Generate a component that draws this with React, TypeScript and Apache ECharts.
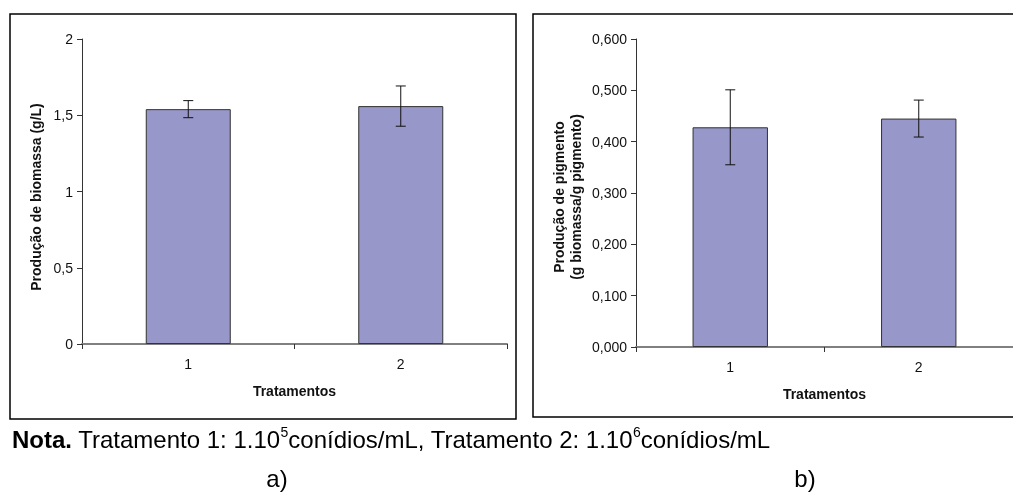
import React, { useEffect, useRef } from "react";
import * as echarts from "echarts";

const FONT = "'Liberation Sans', Arial, sans-serif";

const categories = ["1", "2"];
const biomassa = [1.54, 1.56];
const biomassaErr = [0.056, 0.132];
const pigmento = [0.428, 0.445];
const pigmentoErr = [0.073, 0.036];
const biomassaTicks = { min: 0, max: 2, interval: 0.5 };
const pigmentoTicks = { min: 0, max: 0.6, interval: 0.1 };

const BAR = "#9797c9";

function errorSeries(values: number[], errs: number[], idx: number) {
  return {
    type: "custom",
    xAxisIndex: idx,
    yAxisIndex: idx,
    z: 10,
    encode: { x: 0, y: [1, 2] },
    data: values.map((v, i) => [i, v - errs[i], v + errs[i]]),
    renderItem: (_p: any, api: any) => {
      const x = api.value(0);
      const lo = api.coord([x, api.value(1)]);
      const hi = api.coord([x, api.value(2)]);
      const w = 5;
      const st = { stroke: "#111", lineWidth: 1 };
      return {
        type: "group",
        children: [
          { type: "line", shape: { x1: lo[0], y1: lo[1], x2: hi[0], y2: hi[1] }, style: st },
          { type: "line", shape: { x1: lo[0] - w, y1: lo[1], x2: lo[0] + w, y2: lo[1] }, style: st },
          { type: "line", shape: { x1: hi[0] - w, y1: hi[1], x2: hi[0] + w, y2: hi[1] }, style: st },
        ],
      };
    },
  };
}

function xAxisCfg(idx: number) {
  return {
    type: "category",
    gridIndex: idx,
    data: categories,
    axisLine: { lineStyle: { color: "#808080", width: 2 } },
    axisTick: { show: true, length: 5, lineStyle: { color: "#333", width: 1 } },
    axisLabel: { color: "#111", fontSize: 14, margin: 13, fontFamily: FONT },
    name: "Tratamentos",
    nameLocation: "middle",
    nameGap: 40,
    nameTextStyle: { fontWeight: "bold", fontSize: 14, color: "#111", fontFamily: FONT },
  };
}

function yAxisCfg(idx: number, t: any, fmt: (v: number) => string) {
  return {
    type: "value",
    gridIndex: idx,
    min: t.min,
    max: t.max,
    interval: t.interval,
    axisLine: { show: true, lineStyle: { color: "#333", width: 1 } },
    axisTick: { show: true, length: 5, lineStyle: { color: "#333", width: 1 } },
    splitLine: { show: false },
    axisLabel: { color: "#111", fontSize: 14, margin: 9, fontFamily: FONT, formatter: fmt },
  };
}

export default function App() {
  const ref = useRef<HTMLDivElement>(null);
  useEffect(() => {
    if (!ref.current) return;
    const chart = echarts.init(ref.current, undefined, { renderer: "svg" });
    const titleStyle = { fontFamily: FONT, fontSize: 14, fontWeight: "bold", fill: "#111", align: "center", verticalAlign: "middle", lineHeight: 17 };
    const option: any = {
      animation: false,
      textStyle: { fontFamily: FONT },
      grid: [
        { left: 82, top: 39, width: 425, height: 305 },
        { left: 636, top: 39, width: 380, height: 308 },
      ],
      xAxis: [xAxisCfg(0), xAxisCfg(1)],
      yAxis: [
        yAxisCfg(0, biomassaTicks, (v: number) => String(v).replace(".", ",")),
        yAxisCfg(1, pigmentoTicks, (v: number) => v.toFixed(3).replace(".", ",")),
      ],
      series: [
        {
          type: "bar",
          xAxisIndex: 0,
          yAxisIndex: 0,
          data: biomassa,
          barWidth: "40%",
          itemStyle: { color: BAR, borderColor: "#333", borderWidth: 1 },
        },
        errorSeries(biomassa, biomassaErr, 0),
        {
          type: "bar",
          xAxisIndex: 1,
          yAxisIndex: 1,
          data: pigmento,
          barWidth: "40%",
          itemStyle: { color: BAR, borderColor: "#333", borderWidth: 1 },
        },
        errorSeries(pigmento, pigmentoErr, 1),
      ],
      graphic: [
        { type: "rect", shape: { x: 10, y: 14, width: 506, height: 405 }, style: { fill: "none", stroke: "#000", lineWidth: 1.5 }, z: 100 },
        { type: "rect", shape: { x: 533, y: 14, width: 500, height: 403 }, style: { fill: "none", stroke: "#000", lineWidth: 1.5 }, z: 100 },
        { type: "text", x: 36, y: 197, rotation: Math.PI / 2, style: { ...titleStyle, text: "Produção de biomassa (g/L)" } },
        { type: "text", x: 567.5, y: 197, rotation: Math.PI / 2, style: { ...titleStyle, text: "Produção de pigmento\n(g biomassa/g pigmento)" } },
        {
          type: "text",
          x: 12,
          y: 439,
          style: {
            text: "{b|Nota.} Tratamento 1: 1.10{s|5}conídios/mL, Tratamento 2: 1.10{s|6}conídios/mL",
            fontFamily: FONT,
            fontSize: 24,
            fill: "#000",
            verticalAlign: "middle",
            lineHeight: 28,
            rich: {
              b: { fontWeight: "bold", fontSize: 24, fontFamily: FONT, lineHeight: 28 },
              s: { fontSize: 14, fontFamily: FONT, verticalAlign: "top", lineHeight: 28 },
            },
          },
        },
        { type: "text", x: 277, y: 478, style: { text: "a)", fontFamily: FONT, fontSize: 24, fill: "#000", align: "center", verticalAlign: "middle" } },
        { type: "text", x: 805, y: 478, style: { text: "b)", fontFamily: FONT, fontSize: 24, fill: "#000", align: "center", verticalAlign: "middle" } },
      ],
    };
    chart.setOption(option);
    return () => chart.dispose();
  }, []);
  return <div ref={ref} style={{ position: "fixed", left: 0, top: 0, width: 1013, height: 493 }} />;
}
